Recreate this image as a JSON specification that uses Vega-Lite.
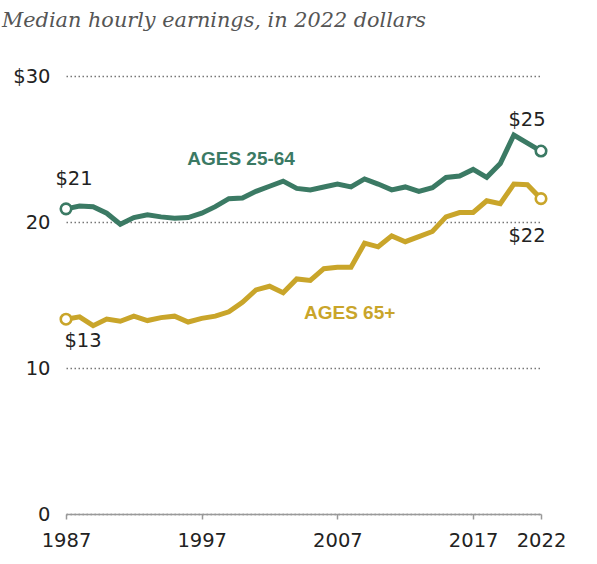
{
  "$schema": "https://vega.github.io/schema/vega-lite/v6.json",
  "width": 475,
  "height": 438,
  "autosize": {"type": "none"},
  "padding": {"left": 66, "top": 76, "right": 56, "bottom": 50},
  "background": "#ffffff",
  "view": {"stroke": null},
  "title": {
    "text": "Median hourly earnings, in 2022 dollars",
    "font": "DejaVu Serif",
    "fontStyle": "italic",
    "fontWeight": "normal",
    "fontSize": 20.8,
    "color": "#555555",
    "anchor": "start",
    "frame": "group",
    "dx": -64,
    "offset": 34
  },
  "datasets": {
    "earnings": [
      {"year": 1987, "series": "Ages 25-64", "value": 20.9},
      {"year": 1988, "series": "Ages 25-64", "value": 21.1},
      {"year": 1989, "series": "Ages 25-64", "value": 21.05},
      {"year": 1990, "series": "Ages 25-64", "value": 20.6},
      {"year": 1991, "series": "Ages 25-64", "value": 19.85},
      {"year": 1992, "series": "Ages 25-64", "value": 20.3},
      {"year": 1993, "series": "Ages 25-64", "value": 20.5},
      {"year": 1994, "series": "Ages 25-64", "value": 20.35},
      {"year": 1995, "series": "Ages 25-64", "value": 20.25},
      {"year": 1996, "series": "Ages 25-64", "value": 20.3},
      {"year": 1997, "series": "Ages 25-64", "value": 20.6},
      {"year": 1998, "series": "Ages 25-64", "value": 21.05},
      {"year": 1999, "series": "Ages 25-64", "value": 21.6},
      {"year": 2000, "series": "Ages 25-64", "value": 21.65},
      {"year": 2001, "series": "Ages 25-64", "value": 22.1},
      {"year": 2002, "series": "Ages 25-64", "value": 22.45},
      {"year": 2003, "series": "Ages 25-64", "value": 22.8},
      {"year": 2004, "series": "Ages 25-64", "value": 22.3},
      {"year": 2005, "series": "Ages 25-64", "value": 22.2},
      {"year": 2006, "series": "Ages 25-64", "value": 22.4},
      {"year": 2007, "series": "Ages 25-64", "value": 22.6},
      {"year": 2008, "series": "Ages 25-64", "value": 22.4},
      {"year": 2009, "series": "Ages 25-64", "value": 22.95},
      {"year": 2010, "series": "Ages 25-64", "value": 22.6},
      {"year": 2011, "series": "Ages 25-64", "value": 22.2},
      {"year": 2012, "series": "Ages 25-64", "value": 22.4},
      {"year": 2013, "series": "Ages 25-64", "value": 22.1},
      {"year": 2014, "series": "Ages 25-64", "value": 22.35},
      {"year": 2015, "series": "Ages 25-64", "value": 23.05},
      {"year": 2016, "series": "Ages 25-64", "value": 23.15},
      {"year": 2017, "series": "Ages 25-64", "value": 23.6},
      {"year": 2018, "series": "Ages 25-64", "value": 23.06},
      {"year": 2019, "series": "Ages 25-64", "value": 24.0},
      {"year": 2020, "series": "Ages 25-64", "value": 25.96},
      {"year": 2021, "series": "Ages 25-64", "value": 25.4},
      {"year": 2022, "series": "Ages 25-64", "value": 24.86},
      {"year": 1987, "series": "Ages 65+", "value": 13.34},
      {"year": 1988, "series": "Ages 65+", "value": 13.5},
      {"year": 1989, "series": "Ages 65+", "value": 12.9},
      {"year": 1990, "series": "Ages 65+", "value": 13.35},
      {"year": 1991, "series": "Ages 65+", "value": 13.2},
      {"year": 1992, "series": "Ages 65+", "value": 13.55},
      {"year": 1993, "series": "Ages 65+", "value": 13.25},
      {"year": 1994, "series": "Ages 65+", "value": 13.45},
      {"year": 1995, "series": "Ages 65+", "value": 13.55},
      {"year": 1996, "series": "Ages 65+", "value": 13.15},
      {"year": 1997, "series": "Ages 65+", "value": 13.4},
      {"year": 1998, "series": "Ages 65+", "value": 13.55},
      {"year": 1999, "series": "Ages 65+", "value": 13.85},
      {"year": 2000, "series": "Ages 65+", "value": 14.5},
      {"year": 2001, "series": "Ages 65+", "value": 15.35},
      {"year": 2002, "series": "Ages 65+", "value": 15.6},
      {"year": 2003, "series": "Ages 65+", "value": 15.15},
      {"year": 2004, "series": "Ages 65+", "value": 16.1},
      {"year": 2005, "series": "Ages 65+", "value": 16.0},
      {"year": 2006, "series": "Ages 65+", "value": 16.8},
      {"year": 2007, "series": "Ages 65+", "value": 16.9},
      {"year": 2008, "series": "Ages 65+", "value": 16.9},
      {"year": 2009, "series": "Ages 65+", "value": 18.55},
      {"year": 2010, "series": "Ages 65+", "value": 18.3},
      {"year": 2011, "series": "Ages 65+", "value": 19.05},
      {"year": 2012, "series": "Ages 65+", "value": 18.65},
      {"year": 2013, "series": "Ages 65+", "value": 19.0},
      {"year": 2014, "series": "Ages 65+", "value": 19.35},
      {"year": 2015, "series": "Ages 65+", "value": 20.35},
      {"year": 2016, "series": "Ages 65+", "value": 20.65},
      {"year": 2017, "series": "Ages 65+", "value": 20.65},
      {"year": 2018, "series": "Ages 65+", "value": 21.45},
      {"year": 2019, "series": "Ages 65+", "value": 21.25},
      {"year": 2020, "series": "Ages 65+", "value": 22.6},
      {"year": 2021, "series": "Ages 65+", "value": 22.55},
      {"year": 2022, "series": "Ages 65+", "value": 21.6}
    ]
  },
  "data": {"name": "earnings"},
  "encoding": {
    "x": {
      "field": "year",
      "type": "quantitative",
      "scale": {"domain": [1987, 2022], "nice": false, "zero": false},
      "axis": {
        "title": null,
        "values": [1987, 1997, 2007, 2017, 2022],
        "format": "d",
        "grid": false,
        "domainColor": "#999999",
        "domainWidth": 1.5,
        "tickColor": "#999999",
        "tickWidth": 1.5,
        "tickSize": 5,
        "labelFont": "DejaVu Sans",
        "labelFontSize": 19.5,
        "labelColor": "#222222",
        "labelPadding": 12,
        "labelFlush": false
      }
    },
    "y": {
      "field": "value",
      "type": "quantitative",
      "scale": {"domain": [0, 30], "nice": false},
      "axis": {
        "title": null,
        "values": [0, 10, 20, 30],
        "labelExpr": "datum.value == 30 ? '$30' : datum.label",
        "domain": false,
        "ticks": false,
        "grid": true,
        "gridDash": [1.5, 2.5],
        "gridColor": "#777777",
        "gridWidth": 1.3,
        "labelFont": "DejaVu Sans",
        "labelFontSize": 19.5,
        "labelColor": "#222222",
        "labelPadding": 16
      }
    },
    "color": {
      "field": "series",
      "type": "nominal",
      "scale": {"domain": ["Ages 25-64", "Ages 65+"], "range": ["#3b7a64", "#c9a52a"]},
      "legend": null
    }
  },
  "layer": [
    {
      "mark": {"type": "line", "strokeWidth": 5}
    },
    {
      "transform": [{"filter": "datum.year == 1987 || datum.year == 2022"}],
      "mark": {"type": "point", "filled": false, "fill": "#ffffff", "fillOpacity": 1, "size": 110, "strokeWidth": 2.6, "opacity": 1}
    },
    {
      "transform": [{"filter": "datum.year == 1987 && datum.series == 'Ages 25-64'"}],
      "mark": {"type": "text", "font": "DejaVu Sans", "fontSize": 19.5, "dx": 8, "dy": -30},
      "encoding": {"text": {"field": "value", "format": "$.0f"}, "color": {"value": "#222222"}}
    },
    {
      "transform": [{"filter": "datum.year == 1987 && datum.series == 'Ages 65+'"}],
      "mark": {"type": "text", "font": "DejaVu Sans", "fontSize": 19.5, "dx": 17, "dy": 22},
      "encoding": {"text": {"field": "value", "format": "$.0f"}, "color": {"value": "#222222"}}
    },
    {
      "transform": [{"filter": "datum.year == 2022 && datum.series == 'Ages 25-64'"}],
      "mark": {"type": "text", "font": "DejaVu Sans", "fontSize": 19.5, "dx": -14, "dy": -31},
      "encoding": {"text": {"field": "value", "format": "$.0f"}, "color": {"value": "#222222"}}
    },
    {
      "transform": [{"filter": "datum.year == 2022 && datum.series == 'Ages 65+'"}],
      "mark": {"type": "text", "font": "DejaVu Sans", "fontSize": 19.5, "dx": -14, "dy": 37},
      "encoding": {"text": {"field": "value", "format": "$.0f"}, "color": {"value": "#222222"}}
    },
    {
      "transform": [{"filter": "datum.year == 1987 && datum.series == 'Ages 25-64'"}],
      "mark": {"type": "text", "font": "Liberation Sans", "fontWeight": "bold", "fontSize": 19, "text": "AGES 25-64"},
      "encoding": {
        "x": {"datum": 1999.9},
        "y": {"datum": 24.3}
      }
    },
    {
      "transform": [{"filter": "datum.year == 1987 && datum.series == 'Ages 65+'"}],
      "mark": {"type": "text", "font": "Liberation Sans", "fontWeight": "bold", "fontSize": 19, "text": "AGES 65+"},
      "encoding": {
        "x": {"datum": 2007.9},
        "y": {"datum": 13.77}
      }
    }
  ]
}
